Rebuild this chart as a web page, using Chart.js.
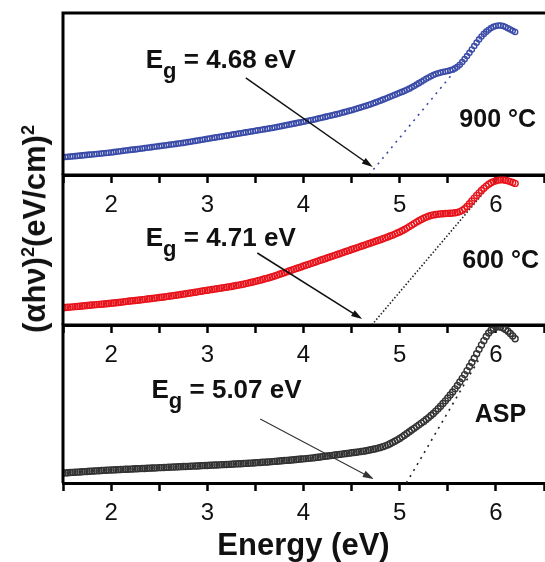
<!DOCTYPE html>
<html>
<head>
<meta charset="utf-8">
<script src="https://cdn.jsdelivr.net/npm/chart.js@4.4.1/dist/chart.umd.min.js"></script>
<style>
    html, body { margin: 0; padding: 0; background: #fff; overflow: hidden; }
    #wrap { position: relative; width: 545px; height: 562px; overflow: hidden; }
    #wrap canvas { position: absolute; left: 0; }
    #yTitle {
        position: absolute; left: 35px; top: 229px;
        transform: translate(-50%, -50%) rotate(-90deg);
        font: bold 31px "Liberation Sans", Arial, sans-serif;
        color: #111; white-space: nowrap;
    }
    #yTitle sup { font-size: 58%; }
</style>
</head>
<body>
<div id="wrap">
    <canvas id="panel900" width="552" height="230" style="top:0"></canvas>
    <canvas id="panel600" width="552" height="215" style="top:165px"></canvas>
    <canvas id="panelASP" width="552" height="250" style="top:315px"></canvas>
    <div id="yTitle">(&alpha;h&nu;)<sup>2</sup>(eV/cm)<sup>2</sup></div>
</div>
<script>
// Photon energy (eV), shared by the three spectra
const energy = [
    1.500, 1.525, 1.550, 1.575, 1.600, 1.625, 1.650, 1.675,
    1.700, 1.725, 1.750, 1.775, 1.800, 1.825, 1.850, 1.875,
    1.900, 1.925, 1.950, 1.975, 2.000, 2.025, 2.050, 2.075,
    2.100, 2.125, 2.150, 2.175, 2.200, 2.225, 2.250, 2.275,
    2.300, 2.325, 2.350, 2.375, 2.400, 2.425, 2.450, 2.475,
    2.500, 2.525, 2.550, 2.575, 2.600, 2.625, 2.650, 2.675,
    2.700, 2.725, 2.750, 2.775, 2.800, 2.825, 2.850, 2.875,
    2.900, 2.925, 2.950, 2.975, 3.000, 3.025, 3.050, 3.075,
    3.100, 3.125, 3.150, 3.175, 3.200, 3.225, 3.250, 3.275,
    3.300, 3.325, 3.350, 3.375, 3.400, 3.425, 3.450, 3.475,
    3.500, 3.525, 3.550, 3.575, 3.600, 3.625, 3.650, 3.675,
    3.700, 3.725, 3.750, 3.775, 3.800, 3.825, 3.850, 3.875,
    3.900, 3.925, 3.950, 3.975, 4.000, 4.025, 4.050, 4.075,
    4.100, 4.125, 4.150, 4.175, 4.200, 4.225, 4.250, 4.275,
    4.300, 4.325, 4.350, 4.375, 4.400, 4.425, 4.450, 4.475,
    4.500, 4.525, 4.550, 4.575, 4.600, 4.625, 4.650, 4.675,
    4.700, 4.725, 4.750, 4.775, 4.800, 4.825, 4.850, 4.875,
    4.900, 4.925, 4.950, 4.975, 5.000, 5.025, 5.050, 5.075,
    5.100, 5.125, 5.150, 5.175, 5.200, 5.225, 5.250, 5.275,
    5.300, 5.325, 5.350, 5.375, 5.400, 5.425, 5.450, 5.475,
    5.500, 5.525, 5.550, 5.575, 5.600, 5.625, 5.650, 5.675,
    5.700, 5.725, 5.750, 5.775, 5.800, 5.825, 5.850, 5.875,
    5.900, 5.925, 5.950, 5.975, 6.000, 6.025, 6.050, 6.075,
    6.100, 6.125, 6.150, 6.175, 6.200
];

// (alpha h nu)^2, arbitrary units (0-100 of each panel height)
const absorb900 = [
    11.0, 11.1, 11.2, 11.35, 11.5, 11.65, 11.8, 11.95,
    12.1, 12.25, 12.4, 12.55, 12.7, 12.85, 13.0, 13.15,
    13.3, 13.45, 13.6, 13.75, 13.9, 14.1, 14.3, 14.5,
    14.7, 14.9, 15.1, 15.3, 15.5, 15.65, 15.8, 16.0,
    16.2, 16.4, 16.6, 16.8, 17.0, 17.2, 17.4, 17.6,
    17.8, 18.0, 18.2, 18.4, 18.6, 18.8, 19.0, 19.2,
    19.4, 19.6, 19.8, 20.05, 20.3, 20.55, 20.8, 21.05,
    21.3, 21.55, 21.8, 22.05, 22.3, 22.55, 22.8, 23.05,
    23.3, 23.55, 23.8, 24.05, 24.3, 24.55, 24.8, 25.05,
    25.3, 25.55, 25.8, 26.05, 26.3, 26.55, 26.8, 27.05,
    27.3, 27.55, 27.8, 28.05, 28.3, 28.55, 28.8, 29.05,
    29.3, 29.6, 29.9, 30.2, 30.5, 30.8, 31.1, 31.4,
    31.7, 32.0, 32.3, 32.6, 32.9, 33.2, 33.5, 33.8,
    34.1, 34.45, 34.8, 35.15, 35.5, 35.85, 36.2, 36.55,
    36.9, 37.25, 37.6, 38.0, 38.4, 38.8, 39.2, 39.6,
    40.0, 40.45, 40.9, 41.35, 41.8, 42.25, 42.7, 43.2,
    43.7, 44.25, 44.8, 45.35, 45.9, 46.5, 47.1, 47.7,
    48.3, 48.9, 49.5, 50.1, 50.7, 51.3, 51.9, 52.6,
    53.3, 54.1, 54.9, 55.8, 56.7, 57.6, 58.5, 59.4,
    60.2, 61.0, 61.7, 62.3, 62.8, 63.2, 63.6, 63.9,
    64.2, 64.6, 65.1, 65.8, 66.8, 68.1, 69.7, 71.5,
    73.4, 75.4, 77.5, 79.6, 81.7, 83.7, 85.5, 87.1,
    88.5, 89.7, 90.7, 91.5, 92.0, 92.3, 92.3, 92.0,
    91.4, 90.6, 89.8, 89.0, 88.3
];

const absorb600 = [
    11.5, 11.65, 11.8, 11.95, 12.1, 12.25, 12.4, 12.55,
    12.7, 12.85, 13.0, 13.15, 13.3, 13.45, 13.6, 13.75,
    13.9, 14.05, 14.2, 14.35, 14.5, 14.65, 14.8, 15.0,
    15.2, 15.4, 15.6, 15.8, 16.0, 16.15, 16.3, 16.5,
    16.7, 16.9, 17.1, 17.3, 17.5, 17.7, 17.9, 18.1,
    18.3, 18.5, 18.7, 18.95, 19.2, 19.4, 19.6, 19.85,
    20.1, 20.35, 20.6, 20.85, 21.1, 21.35, 21.6, 21.85,
    22.1, 22.4, 22.7, 22.95, 23.2, 23.45, 23.7, 23.95,
    24.2, 24.45, 24.7, 24.95, 25.2, 25.45, 25.7, 26.0,
    26.3, 26.6, 26.9, 27.25, 27.6, 27.95, 28.3, 28.7,
    29.1, 29.5, 29.9, 30.35, 30.8, 31.25, 31.7, 32.2,
    32.7, 33.25, 33.8, 34.35, 34.9, 35.45, 36.0, 36.55,
    37.1, 37.65, 38.2, 38.75, 39.3, 39.85, 40.4, 40.95,
    41.5, 42.05, 42.6, 43.15, 43.7, 44.25, 44.8, 45.35,
    45.9, 46.45, 47.0, 47.55, 48.1, 48.65, 49.2, 49.75,
    50.3, 50.85, 51.4, 51.95, 52.5, 53.05, 53.6, 54.15,
    54.7, 55.25, 55.8, 56.35, 56.9, 57.5, 58.1, 58.7,
    59.3, 59.9, 60.6, 61.3, 62.0, 62.8, 63.7, 64.6,
    65.6, 66.6, 67.6, 68.6, 69.5, 70.4, 71.2, 71.9,
    72.5, 73.0, 73.4, 73.7, 73.9, 74.1, 74.2, 74.3,
    74.4, 74.5, 74.6, 74.8, 75.1, 75.6, 76.4, 77.5,
    79.0, 80.8, 82.7, 84.6, 86.4, 88.1, 89.7, 91.2,
    92.6, 93.8, 94.8, 95.6, 96.2, 96.6, 96.8, 96.8,
    96.5, 96.1, 95.6, 95.0, 94.4
];

const absorbASP = [
    6.3, 6.4, 6.5, 6.6, 6.7, 6.8, 6.9, 7.0,
    7.1, 7.2, 7.3, 7.4, 7.5, 7.6, 7.7, 7.8,
    7.9, 8.0, 8.1, 8.15, 8.2, 8.3, 8.4, 8.45,
    8.5, 8.6, 8.7, 8.75, 8.8, 8.9, 9.0, 9.05,
    9.1, 9.15, 9.2, 9.3, 9.4, 9.45, 9.5, 9.6,
    9.7, 9.75, 9.8, 9.9, 10.0, 10.05, 10.1, 10.2,
    10.3, 10.35, 10.4, 10.45, 10.5, 10.6, 10.7, 10.75,
    10.8, 10.9, 11.0, 11.05, 11.1, 11.2, 11.3, 11.35,
    11.4, 11.5, 11.6, 11.65, 11.7, 11.8, 11.9, 12.0,
    12.1, 12.15, 12.2, 12.3, 12.4, 12.5, 12.6, 12.7,
    12.8, 12.9, 13.0, 13.1, 13.2, 13.3, 13.4, 13.55,
    13.7, 13.8, 13.9, 14.05, 14.2, 14.3, 14.4, 14.55,
    14.7, 14.85, 15.0, 15.15, 15.3, 15.45, 15.6, 15.75,
    15.9, 16.1, 16.3, 16.5, 16.7, 16.9, 17.1, 17.3,
    17.5, 17.7, 17.9, 18.1, 18.3, 18.5, 18.7, 18.9,
    19.1, 19.3, 19.5, 19.7, 19.9, 20.15, 20.4, 20.7,
    21.0, 21.35, 21.7, 22.1, 22.5, 23.0, 23.5, 24.1,
    24.8, 25.6, 26.4, 27.3, 28.2, 29.2, 30.2, 31.3,
    32.4, 33.5, 34.6, 35.7, 36.8, 37.9, 39.0, 40.2,
    41.4, 42.7, 44.0, 45.5, 47.0, 48.6, 50.3, 52.0,
    53.8, 55.7, 57.6, 59.6, 61.7, 63.9, 66.2, 68.6,
    71.1, 73.7, 76.3, 79.0, 81.8, 84.6, 87.4, 90.1,
    92.7, 94.9, 96.7, 98.0, 98.7, 98.9, 98.7, 98.1,
    97.2, 96.0, 94.6, 93.0, 91.3
];

// Linear extrapolation of the absorption edge (x in eV, y in panel units)
const tangent900X = [4.68, 5.57];
const tangent900Y = [0, 64];
const tangent600X = [4.71, 5.87];
const tangent600Y = [0, 88];
const tangentASPX = [5.07, 5.84];
const tangentASPY = [0, 80];

// Band gaps and sample names
const bandGaps = ['4.68', '4.71', '5.07'];
const sampleNames = ['900 °C', '600 °C', 'ASP'];

// x axis
const xMin = 1.5;
const xMax = 6.5;
const xTickLabels = [2, 3, 4, 5, 6];

const FONT = '"Liberation Sans", Arial, Helvetica, sans-serif';

function toPoints(xs, ys) {
    return xs.map((v, i) => ({ x: v, y: ys[i] }));
}

function drawArrow(ctx, x1, y1, x2, y2, color, width) {
    const ang = Math.atan2(y2 - y1, x2 - x1);
    const head = 11;
    ctx.strokeStyle = color;
    ctx.fillStyle = color;
    ctx.lineWidth = width;
    ctx.beginPath();
    ctx.moveTo(x1, y1);
    ctx.lineTo(x2 - Math.cos(ang) * head * 0.8, y2 - Math.sin(ang) * head * 0.8);
    ctx.stroke();
    ctx.beginPath();
    ctx.moveTo(x2, y2);
    ctx.lineTo(x2 - head * Math.cos(ang) + 3.5 * Math.sin(ang), y2 - head * Math.sin(ang) - 3.5 * Math.cos(ang));
    ctx.lineTo(x2 - head * Math.cos(ang) - 3.5 * Math.sin(ang), y2 - head * Math.sin(ang) + 3.5 * Math.cos(ang));
    ctx.closePath();
    ctx.fill();
}

// Frame, arrow and labels of one panel
const panelNotes = {
    id: 'panelNotes',
    afterDatasetsDraw(chart, args, opts) {
        const { ctx, chartArea: a } = chart;
        const x = chart.scales.x, y = chart.scales.y;
        ctx.save();

        ctx.strokeStyle = '#000';
        ctx.lineWidth = 3;
        ctx.beginPath();
        ctx.moveTo(a.left, a.bottom);
        ctx.lineTo(a.left, a.top);
        ctx.lineTo(a.right + 2, a.top);
        ctx.stroke();

        drawArrow(ctx,
            x.getPixelForValue(opts.arrow[0]), y.getPixelForValue(opts.arrow[1]),
            x.getPixelForValue(opts.arrow[2]), y.getPixelForValue(opts.arrow[3]),
            opts.arrowColor, opts.arrowWidth);

        ctx.fillStyle = '#111';
        ctx.textBaseline = 'alphabetic';
        let px = x.getPixelForValue(opts.egAt[0]);
        const py = y.getPixelForValue(opts.egAt[1]);
        ctx.font = 'bold 26px ' + FONT;
        ctx.fillText('E', px, py);
        px += ctx.measureText('E').width;
        ctx.font = 'bold 22px ' + FONT;
        ctx.fillText('g', px, py + 10);
        px += ctx.measureText('g').width;
        ctx.font = 'bold 26px ' + FONT;
        ctx.fillText(' = ' + opts.gap + ' eV', px, py);

        ctx.font = 'bold 25px ' + FONT;
        ctx.fillText(opts.name, x.getPixelForValue(opts.nameAt[0]), y.getPixelForValue(opts.nameAt[1]));
        ctx.restore();
    }
};

function makePanel(id, values, color, radius, tx, ty, tanColor, tanDash, notes, padTop, axisHeight, withTitle) {
    return new Chart(document.getElementById(id), {
        type: 'scatter',
        data: {
            datasets: [{
                data: toPoints(energy, values),
                pointStyle: 'circle',
                pointRadius: radius,
                pointBorderWidth: 1.4,
                pointBorderColor: color,
                pointBackgroundColor: 'rgba(255,255,255,0)',
                showLine: false
            }, {
                data: toPoints(tx, ty),
                showLine: true,
                pointRadius: 0,
                borderColor: tanColor,
                borderWidth: 1.6,
                borderDash: tanDash
            }]
        },
        options: {
            responsive: false,
            animation: false,
            layout: { padding: { left: 63, right: 0, top: padTop, bottom: 0 } },
            scales: {
                x: {
                    type: 'linear',
                    min: xMin,
                    max: xMax,
                    afterFit: (s) => { s.height = axisHeight; },
                    ticks: {
                        stepSize: 0.5,
                        autoSkip: false,
                        maxRotation: 0,
                        padding: 8,
                        color: '#111',
                        font: { family: FONT, size: 24 },
                        callback: (v) => xTickLabels.includes(v) ? String(v) : ''
                    },
                    grid: {
                        drawOnChartArea: false,
                        drawTicks: true,
                        tickLength: 8,
                        tickWidth: 2.5,
                        tickColor: '#000'
                    },
                    border: { display: true, color: '#000', width: 3 },
                    title: {
                        display: withTitle,
                        text: 'Energy (eV)',
                        color: '#111',
                        font: { family: FONT, size: 31, weight: 'bold' },
                        padding: { top: 0, bottom: 0 }
                    }
                },
                y: { display: false, min: 0, max: 100 }
            },
            plugins: {
                legend: { display: false },
                tooltip: { enabled: false },
                panelNotes: notes
            }
        },
        plugins: [panelNotes]
    });
}

makePanel('panel900', absorb900, '#3b4ca8', 2.6, tangent900X, tangent900Y, '#3b4ca8', [2, 5], {
    arrow: [3.40, 59.9, 4.72, 4.9], arrowColor: '#111', arrowWidth: 1.5,
    egAt: [2.36, 66], gap: bandGaps[0],
    name: sampleNames[0], nameAt: [5.62, 29.6]
}, 13, 55, false);

makePanel('panel600', absorb600, '#e8141c', 3, tangent600X, tangent600Y, '#222', [1.5, 2], {
    arrow: [3.52, 48, 4.61, 4], arrowColor: '#111', arrowWidth: 1.5,
    egAt: [2.36, 52.7], gap: bandGaps[1],
    name: sampleNames[1], nameAt: [5.65, 38]
}, 10, 55, false);

makePanel('panelASP', absorbASP, '#333', 3, tangentASPX, tangentASPY, '#222', [2, 5], {
    arrow: [3.55, 40.5, 4.73, 2.5], arrowColor: '#333', arrowWidth: 1.1,
    egAt: [2.42, 53.5], gap: bandGaps[2],
    name: sampleNames[2], nameAt: [5.78, 38.9]
}, 10, 82, true);
</script>
</body>
</html>
